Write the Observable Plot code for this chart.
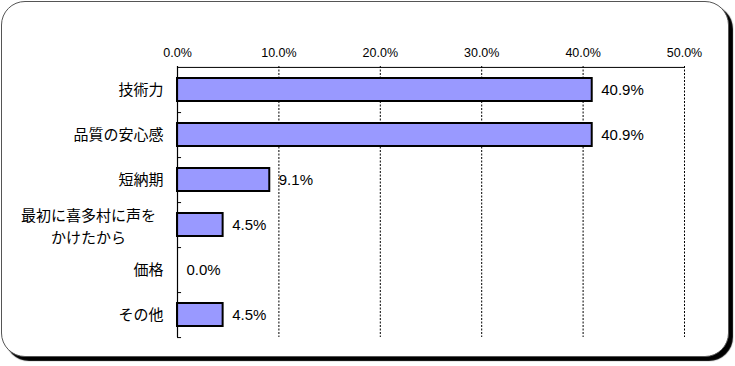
<!DOCTYPE html>
<html>
<head>
<meta charset="utf-8">
<script src="https://cdn.jsdelivr.net/npm/d3@7"></script>
<script src="https://cdn.jsdelivr.net/npm/@observablehq/plot@0.6"></script>
<style>
  html, body { margin: 0; padding: 0; background: #fff; }
  #wrap { position: relative; width: 735px; height: 366px; }
  #box { position: absolute; left: 1px; top: 1px; width: 728px; height: 356px; box-sizing: border-box;
         border: 1px solid #555; border-radius: 24px; box-shadow: 4px 4px 1px #000; background: #fff; }
  #chart { position: absolute; left: 0; top: 0; }
</style>
</head>
<body>
<div id="wrap"><div id="box"></div><div id="chart"></div></div>
<script>
const categories = ["技術力", "品質の安心感", "短納期", "最初に喜多村に声を\nかけたから", "価格", "その他"];
const values = [40.9, 40.9, 9.1, 4.5, 0.0, 4.5];
const xTicks = [0, 10, 20, 30, 40, 50];
const multiLabel = categories[3];

const data = categories.map((c, i) => ({category: c, value: values[i]}));

const W = 735, H = 366;
const mTop = 66, mBottom = 29, mLeft = 177, mRight = 51;
const step = (H - mTop - mBottom) / categories.length;
const fmt = d => d.toFixed(1) + "%";
const font = "'Liberation Sans', Arial, 'Noto Sans CJK JP', sans-serif";

const plot = Plot.plot({
  width: W,
  height: H,
  marginTop: mTop,
  marginBottom: mBottom,
  marginLeft: mLeft,
  marginRight: mRight,
  style: {background: "transparent", fontFamily: font, color: "#000", overflow: "visible"},
  x: {domain: [0, 50], axis: null, label: null},
  y: {domain: categories, paddingInner: 0.5, paddingOuter: 0.25, axis: null, label: null},
  marks: [
    Plot.ruleX(xTicks.slice(1), {stroke: "#000", strokeDasharray: "2,1.5", strokeWidth: 1}),
    Plot.ruleY([categories[0]], {x1: 0, x2: 50, dy: -step / 2, stroke: "#000", strokeWidth: 1}),
    Plot.ruleY(categories, {x1: 0, x2: 0.4, dy: step / 2, stroke: "#000"}),
    Plot.barX(data, {x: "value", y: "category", fill: "#9999FF", stroke: "#000", strokeWidth: 2}),
    Plot.ruleX([0], {stroke: "#000", strokeWidth: 1.2}),
    Plot.axisX(xTicks, {anchor: "top", label: null, tickSize: 0, tickPadding: 10, tickFormat: fmt, fontSize: 12.5}),
    Plot.axisY({label: null, tickSize: 0, tickPadding: 14, fontSize: 15, tickFormat: d => d === multiLabel ? "" : d}),
    Plot.text([multiLabel], {y: d => d, x: 0, dx: -89, text: d => d, textAnchor: "middle", fontSize: 15, lineHeight: 1.5}),
    Plot.text(data, {x: "value", y: "category", text: d => fmt(d.value), textAnchor: "start", dx: 9, fontSize: 15})
  ]
});
document.getElementById("chart").appendChild(plot);
</script>
</body>
</html>
